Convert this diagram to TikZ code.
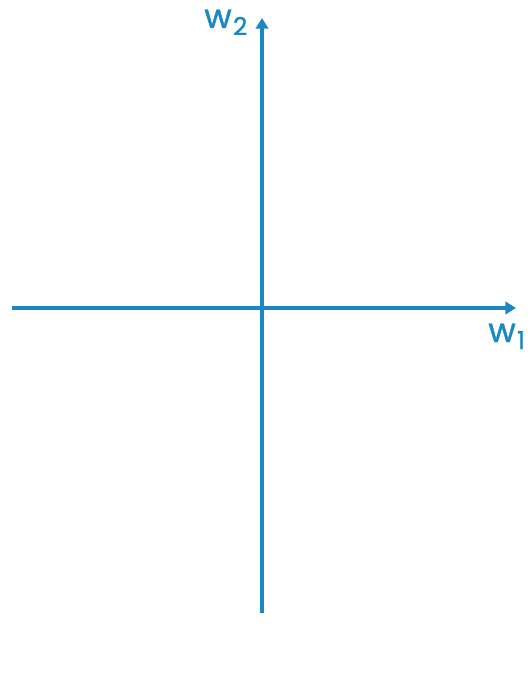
\documentclass[tikz,border=0pt]{standalone}
\usepackage{fontspec}
\setmainfont{Poppins}
\newfontfamily\lblfont{Poppins}[FakeBold=1.2]
\usepackage{xcolor}
\usetikzlibrary{arrows.meta,positioning}
\definecolor{axisblue}{HTML}{1B88C6}

\newcommand{\wsub}[1]{w\kern0.8pt\raisebox{-4pt}{\fontsize{14}{15}\selectfont #1}}

\begin{document}
\begin{tikzpicture}[
  x=0.02cm, y=-0.02cm,
  axis/.style={draw=axisblue, line width=2.2pt, -{Triangle[length=6pt, width=7pt]}},
  axislabel/.style={text=axisblue, font=\lblfont\fontsize{19}{22}\selectfont, inner sep=0pt}
]
\useasboundingbox (0,0) rectangle (529,695);

\coordinate (xleft) at (12,308);
\coordinate (xright) at (516,308);
\coordinate (ybottom) at (262,613);
\coordinate (ytop) at (262,18);

\draw[axis] (xleft) -- (xright);
\draw[axis] (ybottom) -- (ytop);

\node[axislabel, anchor=base west] (wone) at (488,342) {\wsub{1}};
\node[axislabel, anchor=base west] (wtwo) at (204,28) {\wsub{2}};
\end{tikzpicture}
\end{document}
